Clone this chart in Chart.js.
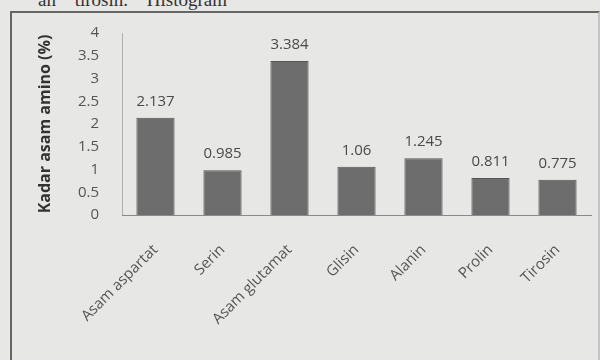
<!DOCTYPE html>
<html>
<head>
<meta charset="utf-8">
<script src="https://cdn.jsdelivr.net/npm/chart.js@4.4.1/dist/chart.umd.min.js"></script>
<style>
  html, body { margin: 0; padding: 0; background: #e7e7e5; overflow: hidden; }
  #wrap { position: relative; width: 600px; height: 360px; }
  #caption { position: absolute; left: 38px; top: -11px; font: 19px "Liberation Serif", serif; color: #333; word-spacing: 14px; }
  #frame { position: absolute; left: 10px; top: 11px; width: 586px; height: 360px; border: 2px solid #666; border-bottom: none; border-right-color: #c4c4c4; }
  canvas { position: absolute; left: 0; top: 0; }
</style>
</head>
<body>
<div id="wrap">
  <div id="caption">an tirosin. Histogram</div>
  <div id="frame"></div>
  <canvas id="chart" width="600" height="360"></canvas>
</div>
<script>
// values
const aminoAcids = ['Asam aspartat', 'Serin', 'Asam glutamat', 'Glisin', 'Alanin', 'Prolin', 'Tirosin'];
const kadar = [2.137, 0.985, 3.384, 1.06, 1.245, 0.811, 0.775];
const kadarLabels = ['2.137', '0.985', '3.384', '1.06', '1.245', '0.811', '0.775'];

const FONT = '"Open Sans", "DejaVu Sans", sans-serif';

// small inline plugin to write the value above each bar
const valueLabels = {
    id: 'valueLabels',
    afterDatasetsDraw(chart) {
        const ctx = chart.ctx;
        const meta = chart.getDatasetMeta(0);
        ctx.save();
        ctx.font = '15px ' + FONT;
        ctx.fillStyle = '#4a4a4a';
        ctx.textAlign = 'center';
        ctx.textBaseline = 'bottom';
        meta.data.forEach((bar, i) => {
            ctx.fillText(kadarLabels[i], bar.x, bar.y - 9);
        });
        ctx.restore();
    }
};

new Chart(document.getElementById('chart').getContext('2d'), {
    type: 'bar',
    data: {
        labels: aminoAcids,
        datasets: [{
            data: kadar,
            backgroundColor: '#6d6d6d',
            borderColor: '#555',
            borderWidth: 1,
            barPercentage: 0.57,
            categoryPercentage: 1
        }]
    },
    options: {
        responsive: false,
        animation: false,
        layout: {padding: {left: 36, top: 33, right: 9, bottom: 20}},
        plugins: {legend: {display: false}, tooltip: {enabled: false}},
        scales: {
            y: {
                min: 0,
                max: 4,
                ticks: {stepSize: 0.5, color: '#555', padding: 15, font: {size: 15, family: FONT},
                    callback: v => String(v)},
                grid: {display: false},
                border: {display: true, color: '#b0b0b0'},
                title: {display: true, text: 'Kadar asam amino (%)', color: '#333', padding: 0,
                    font: {size: 16, weight: 'bold', family: FONT}},
                afterFit(scale) { scale.width = 86; }
            },
            x: {
                ticks: {minRotation: 45, maxRotation: 45, color: '#555', padding: 18,
                    font: {size: 15, family: FONT}},
                grid: {display: false},
                border: {display: true, color: '#8a8a8a'},
                afterFit(scale) { scale.height = 125; }
            }
        }
    },
    plugins: [valueLabels]
});
</script>
</body>
</html>
